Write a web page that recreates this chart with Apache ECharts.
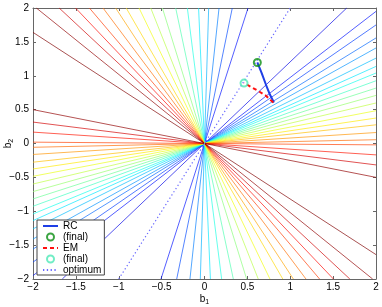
<!DOCTYPE html>
<html><head><meta charset="utf-8">
<script src="https://cdn.jsdelivr.net/npm/echarts@6/dist/echarts.min.js"></script>
<style>html,body{margin:0;padding:0;background:#fff}#c{width:382px;height:307px}</style>
</head><body><div id="c"></div>
<script>
// axis ticks
const tickValues = [-2, -1.5, -1, -0.5, 0, 0.5, 1, 1.5, 2];
// contour lines through the origin (slopes), side turning clockwise from the optimum
const contourSlopesA = [1.206, 0.975, 0.875, 0.779, 0.705, 0.63, 0.569, 0.52, 0.463, 0.409, 0.355, 0.299, 0.242, 0.188, 0.138, 0.081, 0.028, -0.01, -0.084, -0.158, -0.25];
const contourLevelsA = [0, 1, 2, 3, 4, 5, 6, 7, 8, 9, 10, 11, 12, 13, 14, 15, 16, 17, 18, 19.5, 21];
// side turning counter-clockwise from the optimum
const contourSlopesB = [3.94, 6.17, 11.8, 41, -29, -10, -5.95, -4.07, -3.19, -2.62, -2.19, -1.93, -1.69, -1.49, -1.33, -1.18, -1.02, -0.82];
const contourLevelsB = [1, 2.3, 3.5, 4.7, 6, 7.2, 8.4, 9.7, 10.9, 12.2, 13.4, 14.6, 15.9, 17.1, 18.3, 19.6, 21, 21.5];
// algorithm paths
const rcPath = [[0.81, 0.606], [0.764, 0.719], [0.717, 0.867], [0.667, 1.04], [0.616, 1.196]];
const rcFinal = [[0.616, 1.196]];
const emPath = [[0.802, 0.606], [0.713, 0.709], [0.616, 0.783], [0.511, 0.857], [0.461, 0.892]];
const emFinal = [[0.461, 0.892]];
const optimumSlope = 2;

const LIM = 2;
function segment(m) {
  if (Math.abs(m) <= 1) return [[-LIM, -LIM * m], [LIM, LIM * m]];
  return [[-LIM / m, -LIM], [LIM / m, LIM]];
}
function jet(level) {
  let t = Math.min(0.1 + 0.042 * level, 1.0);
  const c = v => Math.round(255 * Math.max(0, Math.min(1, v)));
  const r = c(1.5 - Math.abs(4 * t - 3)), g = c(1.5 - Math.abs(4 * t - 2)), b = c(1.5 - Math.abs(4 * t - 1));
  return `rgb(${r},${g},${b})`;
}
const FONT = 'Liberation Sans, Arial, Helvetica, sans-serif';
const series = [];
function addContours(slopes, levels) {
  slopes.forEach((m, i) => {
    series.push({
      type: 'line', data: segment(m), symbol: 'none', silent: true, z: 1,
      lineStyle: { color: jet(levels[i]), width: 0.8, opacity: 0.85 }, animation: false
    });
  });
}
addContours(contourSlopesA, contourLevelsA);
addContours(contourSlopesB, contourLevelsB);

const noSym = { color: 'rgba(0,0,0,0)', borderColor: 'rgba(0,0,0,0)', opacity: 0 };
series.push({
  name: 'RC', type: 'line', data: rcPath, symbol: 'none', z: 5,
  lineStyle: { color: '#1f3fe6', width: 2 }, itemStyle: noSym
});
series.push({
  name: '(final)', type: 'scatter', data: rcFinal, symbol: 'circle', symbolSize: 7, z: 6,
  itemStyle: { color: 'rgba(0,0,0,0)', borderColor: '#0b8f14', borderWidth: 2 }
});
series.push({
  name: 'EM', type: 'line', data: emPath, symbol: 'none', z: 5,
  lineStyle: { color: '#ff1010', width: 2, type: [4, 3] }, itemStyle: noSym
});
series.push({
  name: '(final) ', type: 'scatter', data: emFinal, symbol: 'circle', symbolSize: 7, z: 6,
  itemStyle: { color: 'rgba(0,0,0,0)', borderColor: '#4ee8b6', borderWidth: 2 }
});
series.push({
  name: 'optimum', type: 'line', data: segment(optimumSlope), symbol: 'none', z: 4,
  lineStyle: { color: '#6a6aff', width: 1.2, type: [1.3, 2.5] }, itemStyle: noSym
});

const fmt = v => String(v).replace('-', '\u2212');
const axisCommon = {
  min: -2, max: 2, interval: 0.5,
  axisLine: { show: true, onZero: false, lineStyle: { color: '#666', width: 1 } },
  axisTick: { show: true, inside: true, length: 3, lineStyle: { color: '#666' } },
  splitLine: { show: false }
};
const nameRich = { s: { fontSize: 7, fontFamily: FONT, color: '#000', padding: [6, 0, 0, 0] } };

const chart = echarts.init(document.getElementById('c'), null, { renderer: 'canvas' });
chart.setOption({
  animation: false,
  backgroundColor: '#fff',
  grid: { left: 33, right: 6, top: 8, bottom: 28, containLabel: false, outerBoundsMode: 'none' },
  xAxis: [
    Object.assign({}, axisCommon, {
      type: 'value', position: 'bottom',
      axisLabel: { show: true, formatter: fmt, fontSize: 10, fontFamily: FONT, color: '#000', margin: 3 },
      name: 'b{s|1}', nameLocation: 'middle', nameGap: 14, nameMoveOverlap: false,
      nameTextStyle: { fontSize: 10, fontFamily: FONT, color: '#000', rich: nameRich }
    }),
    Object.assign({}, axisCommon, { type: 'value', position: 'top', axisLabel: { show: false } })
  ],
  yAxis: [
    Object.assign({}, axisCommon, {
      type: 'value', position: 'left',
      axisLabel: { show: true, formatter: fmt, fontSize: 10, fontFamily: FONT, color: '#000', margin: 4 },
      name: 'b{s|2}', nameLocation: 'middle', nameGap: 18, nameMoveOverlap: false, nameRotate: 90,
      nameTextStyle: { fontSize: 10, fontFamily: FONT, color: '#000', rich: nameRich }
    }),
    Object.assign({}, axisCommon, { type: 'value', position: 'right', axisLabel: { show: false } })
  ],
  legend: {
    orient: 'vertical', left: 37, top: 220,
    data: ['RC', '(final)', 'EM', '(final) ', 'optimum'],
    itemWidth: 15, itemHeight: 7, itemGap: 1,
    padding: [1, 3, 0, 5],
    backgroundColor: '#fff', borderColor: '#444', borderWidth: 1,
    textStyle: { fontSize: 10, fontFamily: FONT, color: '#000', lineHeight: 9 },
    selectedMode: false
  },
  series: series
});
</script></body></html>
